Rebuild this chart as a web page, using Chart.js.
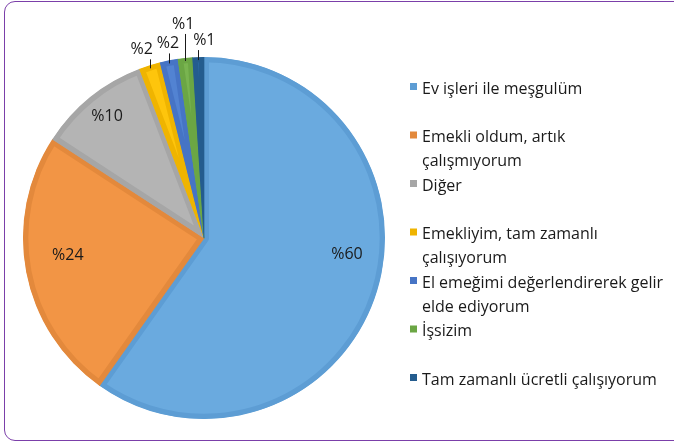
<!DOCTYPE html>
<html>
<head>
<meta charset="utf-8">
<script src="https://cdn.jsdelivr.net/npm/chart.js@4/dist/chart.umd.min.js"></script>
<style>
  html, body { margin: 0; padding: 0; background: #ffffff; }
  #wrap { position: relative; width: 674px; height: 442px; overflow: hidden; }
  #frame { position: absolute; left: 4px; top: 1px; width: 760px; height: 440px; box-sizing: border-box;
           border: 1.5px solid #7b3fa9; border-radius: 11px; pointer-events: none; }
</style>
</head>
<body>
<div id="wrap">
  <canvas id="c" width="674" height="442"></canvas>
  <div id="frame"></div>
</div>
<script>
// ---- data ----
const categories = [
  ["Ev işleri ile meşgulüm"],
  ["Emekli oldum, artık", "çalışmıyorum"],
  ["Diğer"],
  ["Emekliyim, tam zamanlı", "çalışıyorum"],
  ["El emeğimi değerlendirerek gelir", "elde ediyorum"],
  ["İşsizim"],
  ["Tam zamanlı ücretli çalışıyorum"]
];
const shares = [59.8, 24.4, 10.0, 1.9, 1.6, 1.3, 1.0];
const fillColors   = ["#6aaadf", "#f29545", "#b4b4b4", "#fec50c", "#5283d2", "#79b450", "#2a68a0"];
const borderColors = ["#5d9dd4", "#e3893c", "#a6a6a6", "#efb400", "#4674c5", "#6ba644", "#245c8e"];

const FONT = '"Open Sans", "Noto Sans", sans-serif';

// value labels (on slices / with leader lines)
const valueLabelPlugin = {
  id: 'valueLabels',
  afterDatasetsDraw(chart, args, opts) {
    const ctx = chart.ctx;
    const meta = chart.getDatasetMeta(0);
    ctx.save();
    ctx.font = '16px ' + FONT;
    ctx.fillStyle = '#1a1a1a';
    ctx.textAlign = 'center';
    ctx.textBaseline = 'middle';
    meta.data.forEach((arc, i) => {
      const v = chart.data.datasets[0].data[i];
      const text = '%' + Math.round(v);
      const mid = (arc.startAngle + arc.endAngle) / 2;
      const R = arc.outerRadius;
      if (v >= 5) {
        const r = R * 0.8;
        const n = opts.nudge[i] || [0, 0];
        ctx.fillText(text, arc.x + Math.cos(mid) * r + n[0], arc.y + Math.sin(mid) * r + n[1]);
      } else {
        const ex = arc.x + Math.cos(mid) * R;
        const ey = arc.y + Math.sin(mid) * R;
        const len = opts.leader[i] || 10;
        const top = ey - len + 3;
        ctx.strokeStyle = '#1a1a1a';
        ctx.lineWidth = 1;
        ctx.beginPath();
        ctx.moveTo(Math.round(ex) + 0.5, ey + 3);
        ctx.lineTo(Math.round(ex) + 0.5, top);
        ctx.stroke();
        const dx = opts.labelDx[i] || 0;
        ctx.fillText(text, ex + dx, top - 9.5);
      }
    });
    ctx.restore();
  }
};

// legend drawn on the canvas
const sideLegendPlugin = {
  id: 'sideLegend',
  afterDraw(chart, args, opts) {
    const ctx = chart.ctx;
    const ds = chart.data.datasets[0];
    ctx.save();
    ctx.font = '16px ' + FONT;
    ctx.fillStyle = '#1a1a1a';
    ctx.textAlign = 'left';
    ctx.textBaseline = 'alphabetic';
    chart.data.labels.forEach((lines, i) => {
      const base = opts.firstBaseline + i * opts.slot;
      ctx.fillStyle = ds.borderColor[i];
      ctx.fillRect(opts.markerX, base - 10.5, 7, 7);
      ctx.fillStyle = '#1a1a1a';
      lines.forEach((ln, j) => ctx.fillText(ln, opts.textX, base + j * opts.lineH));
    });
    ctx.restore();
  }
};

new Chart(document.getElementById('c'), {
  type: 'pie',
  data: {
    labels: categories,
    datasets: [{
      data: shares,
      backgroundColor: fillColors,
      borderColor: borderColors,
      borderWidth: 5,
      borderAlign: 'inner'
    }]
  },
  options: {
    responsive: false,
    animation: false,
    rotation: 0,
    layout: { padding: { left: 23, top: 57, right: 289, bottom: 23 } },
    plugins: {
      legend: { display: false },
      tooltip: { enabled: false },
      valueLabels: {
        nudge: [[5, -27], [6, -10], [-6, -9]],
        leader: [0, 0, 0, 9, 10, 27, 10],
        labelDx: [0, 0, 0, -8, -1, -2, 6]
      },
      sideLegend: { firstBaseline: 93.5, slot: 48.5, lineH: 24, markerX: 410, textX: 422 }
    }
  },
  plugins: [valueLabelPlugin, sideLegendPlugin]
});
</script>
</body>
</html>
